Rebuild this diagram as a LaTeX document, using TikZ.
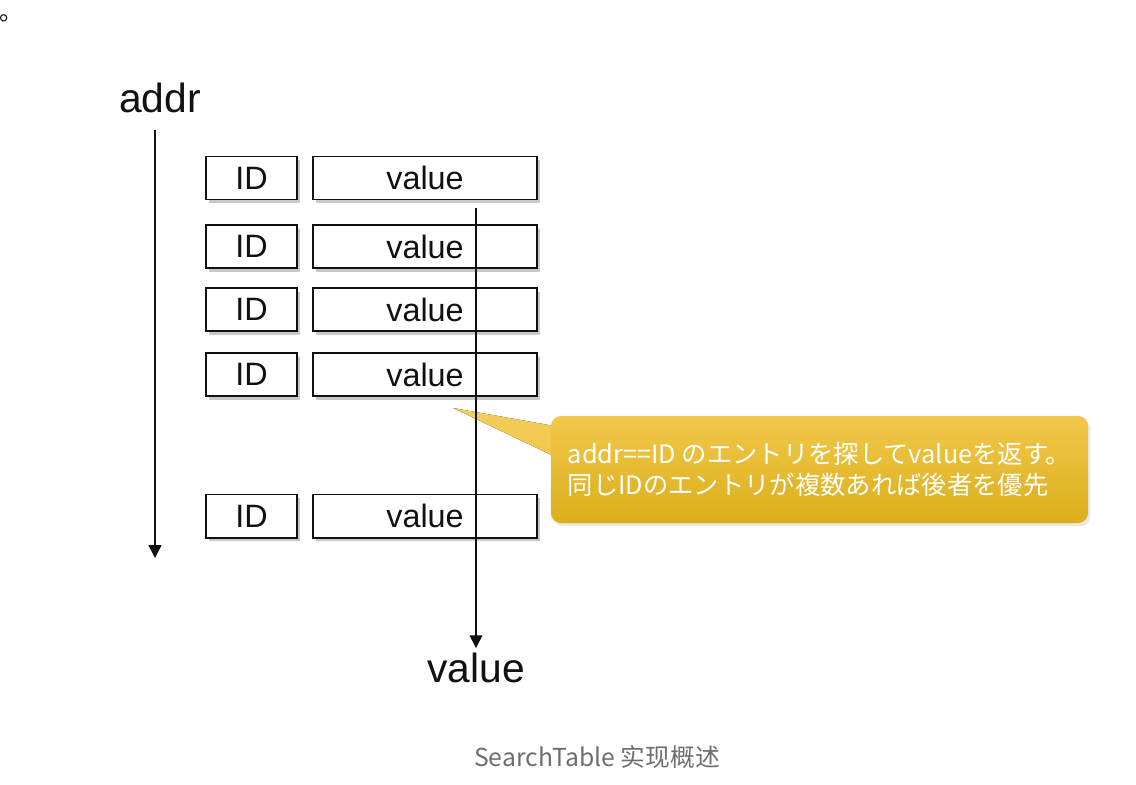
\documentclass[tikz,border=0pt]{standalone}
\usepackage{fontspec}
\setmainfont{Liberation Sans}
\newfontfamily\jpfont{Noto Sans CJK JP}
\newfontfamily\scfont{Noto Sans CJK SC}
\usepackage{tikz}
\usetikzlibrary{arrows.meta, positioning, shadows}
\definecolor{ink}{HTML}{111111}
\definecolor{goldtop}{HTML}{F2C84A}
\definecolor{goldbot}{HTML}{DBAE1C}
\definecolor{capgray}{HTML}{6E6E6E}

\begin{document}
\begin{tikzpicture}[
    x=0.025cm, y=-0.025cm,
    every node/.style={font=\fontsize{23}{26}\selectfont, text=ink},
    idbox/.style={rectangle, draw=ink, fill=white, line width=1.4pt, minimum width=2.275cm, minimum height=1.075cm, inner sep=0pt,
        drop shadow={shadow xshift=0.07cm, shadow yshift=-0.09cm, opacity=0.3, fill=black!70}},
    valbox/.style={idbox, minimum width=5.6cm},
    flow/.style={-{Triangle[length=3.2mm, width=3.2mm]}, line width=1pt, color=ink},
    biglab/.style={font=\fontsize{29}{32}\selectfont},
    note/.style={rectangle, rounded corners=0.25cm, top color=goldtop, bottom color=goldbot, minimum width=13.425cm, minimum height=2.675cm,
        align=left, text=white, font=\jpfont\fontsize{18}{22}\selectfont,
        drop shadow={shadow xshift=0.06cm, shadow yshift=-0.08cm, opacity=0.15, fill=black!60}}
]
\useasboundingbox (0,0) rectangle (1136,784);

% Table rows
\node[idbox]  (id1)  at (251.5,178)   {ID};
\node[valbox] (val1) at (425,178)     {value};
\node[idbox]  (id2)  at (251.5,246.5) {ID};
\node[valbox] (val2) at (425,246.5)   {value};
\node[idbox]  (id3)  at (251.5,309.5) {ID};
\node[valbox] (val3) at (425,309.5)   {value};
\node[idbox]  (id4)  at (251.5,374.5) {ID};
\node[valbox] (val4) at (425,374.5)   {value};
\node[idbox]  (id5)  at (251.5,516)   {ID};
\node[valbox] (val5) at (425,516)     {value};

% Labels
\node[biglab] (addr) at (160,98)  {addr};
\node[biglab] (out)  at (476,668) {value};
\node[font=\scfont\fontsize{17.6}{20}\selectfont, text=capgray] (cap) at (597,757) {SearchTable 实现概述};
\node[font=\jpfont\fontsize{17}{20}\selectfont, anchor=base west, inner sep=0pt] (dot) at (-1,20) {。};

% Callout
\coordinate (tip) at (453,408);
\fill[top color=goldtop!90!white, bottom color=goldtop] (tip) -- (560,427) -- (560,459) -- cycle;
\node[note] (hint) at (819.5,469.5) {addr==ID のエントリを探してvalueを返す。\\同じIDのエントリが複数あれば後者を優先};

% Arrows
\coordinate (addrtop) at (155,130);
\coordinate (addrend) at (155,558);
\coordinate (valtop)  at (476,208);
\draw[flow] (addrtop) -- (addrend);
\draw[flow] (valtop) -- (out.north);
\end{tikzpicture}
\end{document}
